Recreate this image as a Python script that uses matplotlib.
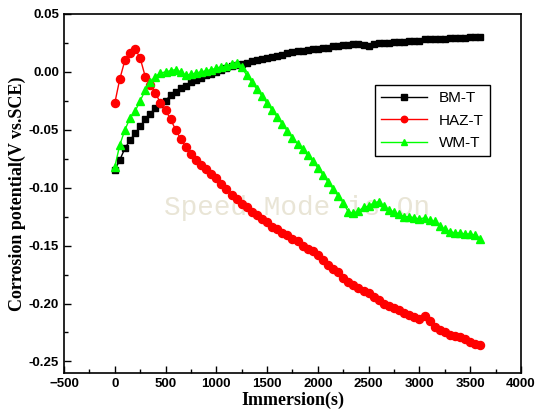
import numpy as np
import matplotlib
matplotlib.use("Agg")
import matplotlib.pyplot as plt
from matplotlib.ticker import MultipleLocator

# immersion time (s), one reading every 50 s
time = np.arange(0, 3601, 50)

bm_t = [-0.085, -0.076, -0.066, -0.059, -0.053, -0.047, -0.041, -0.036, -0.031, -0.028,
        -0.025, -0.020, -0.017, -0.014, -0.012, -0.009, -0.007, -0.005, -0.003, -0.002,
        0.000, 0.002, 0.003, 0.005, 0.006, 0.007, 0.008, 0.009, 0.010, 0.011,
        0.012, 0.013, 0.014, 0.015, 0.016, 0.017, 0.018, 0.018, 0.019, 0.020,
        0.020, 0.021, 0.021, 0.022, 0.022, 0.023, 0.023, 0.024, 0.024, 0.023,
        0.022, 0.024, 0.025, 0.025, 0.025, 0.026, 0.026, 0.026, 0.027, 0.027,
        0.027, 0.028, 0.028, 0.028, 0.028, 0.028, 0.029, 0.029, 0.029, 0.029,
        0.030, 0.030, 0.030]

haz_t = [-0.027, -0.006, 0.010, 0.016, 0.020, 0.012, -0.004, -0.011, -0.018, -0.027,
         -0.033, -0.041, -0.050, -0.058, -0.065, -0.071, -0.076, -0.080, -0.084, -0.088,
         -0.092, -0.097, -0.101, -0.106, -0.110, -0.114, -0.117, -0.121, -0.124, -0.127,
         -0.130, -0.134, -0.136, -0.139, -0.141, -0.144, -0.146, -0.150, -0.153, -0.155,
         -0.158, -0.162, -0.167, -0.170, -0.173, -0.178, -0.181, -0.184, -0.187, -0.189,
         -0.191, -0.194, -0.197, -0.200, -0.202, -0.204, -0.206, -0.208, -0.210, -0.212,
         -0.213, -0.211, -0.215, -0.220, -0.223, -0.225, -0.227, -0.228, -0.229, -0.231,
         -0.233, -0.235, -0.236]

wm_t = [-0.082, -0.063, -0.050, -0.040, -0.034, -0.025, -0.016, -0.009, -0.004, -0.001,
        0.000, 0.001, 0.002, 0.000, -0.003, -0.002, -0.001, 0.000, 0.001, 0.002,
        0.003, 0.004, 0.005, 0.007, 0.008, 0.004, -0.003, -0.009, -0.015, -0.021,
        -0.027, -0.033, -0.039, -0.045, -0.051, -0.057, -0.062, -0.067, -0.072, -0.077,
        -0.083, -0.089, -0.095, -0.101, -0.107, -0.113, -0.121, -0.122, -0.120, -0.117,
        -0.116, -0.113, -0.112, -0.116, -0.119, -0.121, -0.123, -0.125, -0.125, -0.126,
        -0.127, -0.126, -0.128, -0.129, -0.133, -0.136, -0.138, -0.139, -0.139, -0.140,
        -0.140, -0.141, -0.144]

fig = plt.figure(figsize=(5.44, 4.15), dpi=100)
ax = fig.add_axes([0.1176, 0.1012, 0.8401, 0.8651])

# faint screen watermark seen in the source image
ax.text(0.51, 0.46, "Speed Mode is On", transform=ax.transAxes, ha="center", va="center",
        fontsize=20, family="Liberation Mono", color="#e9e5d6", zorder=0.5)

ax.plot(time, bm_t, color="black", marker="s", markersize=5, linewidth=1, label="BM-T")
ax.plot(time, haz_t, color="#ff0000", marker="o", markersize=5.8, linewidth=1, label="HAZ-T")
ax.plot(time, wm_t, color="#00ff00", marker="^", markersize=6.2, linewidth=1, label="WM-T")

ax.set_xlim(-500, 4000)
ax.set_ylim(-0.26, 0.05)
ax.xaxis.set_major_locator(MultipleLocator(500))
ax.xaxis.set_minor_locator(MultipleLocator(250))
ax.yaxis.set_minor_locator(MultipleLocator(0.025))
ax.set_yticks([-0.25, -0.20, -0.15, -0.10, -0.05, 0.00, 0.05])
ax.set_yticklabels(["-0.25", "-0.20", "-0.15", "-0.10", "-0.05", "0.00", "0.05"])

ax.tick_params(which="both", direction="in", top=False, right=False)
ax.tick_params(which="major", length=5, width=1)
ax.tick_params(which="minor", length=3, width=1)
for lab in ax.get_xticklabels() + ax.get_yticklabels():
    lab.set_family("Liberation Sans")
    lab.set_fontweight("bold")
    lab.set_fontsize(9.5)
for sp in ax.spines.values():
    sp.set_linewidth(1.2)

ax.set_xlabel("Immersion(s)", family="Liberation Serif", fontweight="bold", fontsize=13, labelpad=1)
ax.set_ylabel("Corrosion potential(V vs.SCE)", family="Liberation Serif", fontweight="bold",
              fontsize=13, labelpad=2)

leg = ax.legend(loc="upper left", bbox_to_anchor=(0.68, 0.802), prop={"family": "Liberation Sans", "size": 11},
                fancybox=False, framealpha=1, edgecolor="black", handlelength=3, borderaxespad=0,
                labelspacing=0.55, markerscale=0.8)
leg.get_frame().set_linewidth(1)

fig.savefig("out.png", dpi=100)
